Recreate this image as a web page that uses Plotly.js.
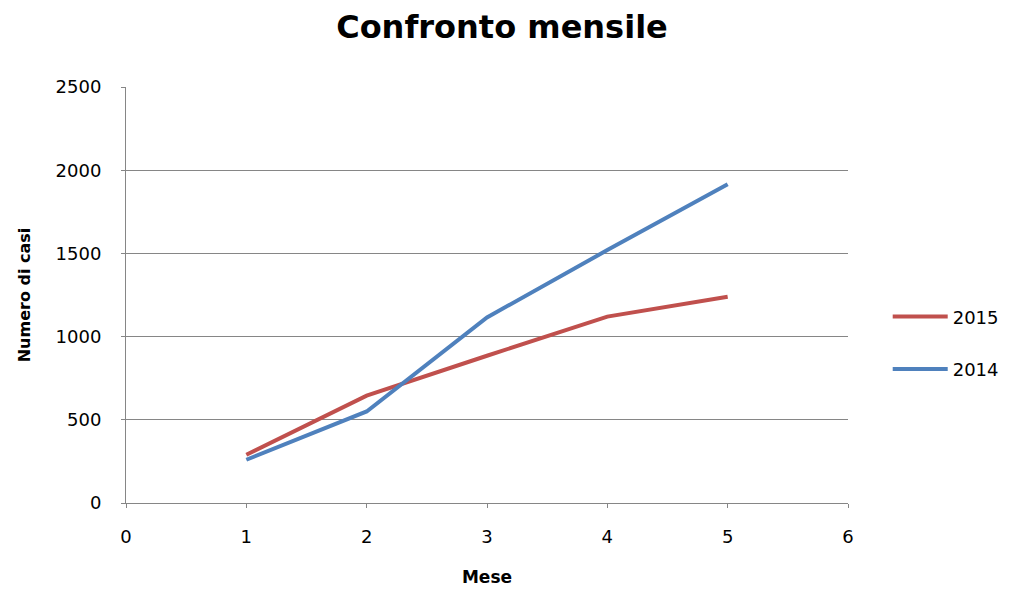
<!DOCTYPE html>
<html>
<head>
<meta charset="utf-8">
<script src="https://cdn.plot.ly/plotly-3.0.1.min.js"></script>
<style>html,body{margin:0;padding:0;background:#fff;}#chart{width:1010px;height:592px;}</style>
</head>
<body>
<div id="chart"></div>
<script>
const months = [1, 2, 3, 4, 5];
const series2015 = [290, 645, 885, 1120, 1240];
const series2014 = [260, 550, 1115, 1520, 1915];
const xTicks = [0, 1, 2, 3, 4, 5, 6];
const yTicks = [0, 500, 1000, 1500, 2000, 2500];

const fontFam = "'DejaVu Sans', sans-serif";
const traces = [
  {x: months, y: series2015, name: '2015', mode: 'lines', legendgroup: 'a',
   line: {color: '#C0504D', width: 4}},
  {x: months, y: series2014, name: '2014', mode: 'lines', legendgroup: 'b',
   line: {color: '#4F81BD', width: 4}}
];
const layout = {
  width: 1010, height: 592,
  margin: {l: 126, r: 162, t: 87, b: 89, autoexpand: false},
  paper_bgcolor: '#fff', plot_bgcolor: '#fff',
  font: {family: fontFam, size: 18, color: '#000'},
  title: {text: '<b>Confronto mensile</b>', x: 0.497, xanchor: 'center', y: 0.955, yanchor: 'middle',
          font: {family: fontFam, size: 32, color: '#000'}},
  xaxis: {range: [0, 6], tickvals: xTicks, ticktext: xTicks.map(String),
          showgrid: false, zeroline: false, showline: true, linecolor: '#868686', linewidth: 1,
          ticks: 'outside', ticklen: 4, tickcolor: '#868686', ticklabelstandoff: 13,
          tickfont: {size: 18, color: '#000'},
          title: {text: '<b>Mese</b>', font: {size: 17}, standoff: 25}},
  yaxis: {range: [0, 2500], tickvals: yTicks, ticktext: yTicks.map(String),
          showgrid: true, gridcolor: '#868686', gridwidth: 1, zeroline: false,
          showline: true, linecolor: '#868686', linewidth: 1,
          ticks: 'outside', ticklen: 4, tickcolor: '#868686', ticklabelstandoff: 16,
          tickfont: {size: 18, color: '#000'},
          title: {text: '<b>Numero di casi</b>', font: {size: 16}, standoff: 20}},
  showlegend: true,
  legend: {x: 1.055, xanchor: 'left', y: 0.385, yanchor: 'middle',
           traceorder: 'grouped', tracegroupgap: 26,
           font: {size: 18, color: '#000'}, itemwidth: 55}
};
Plotly.newPlot('chart', traces, layout, {displayModeBar: false, staticPlot: true});
</script>
</body>
</html>
